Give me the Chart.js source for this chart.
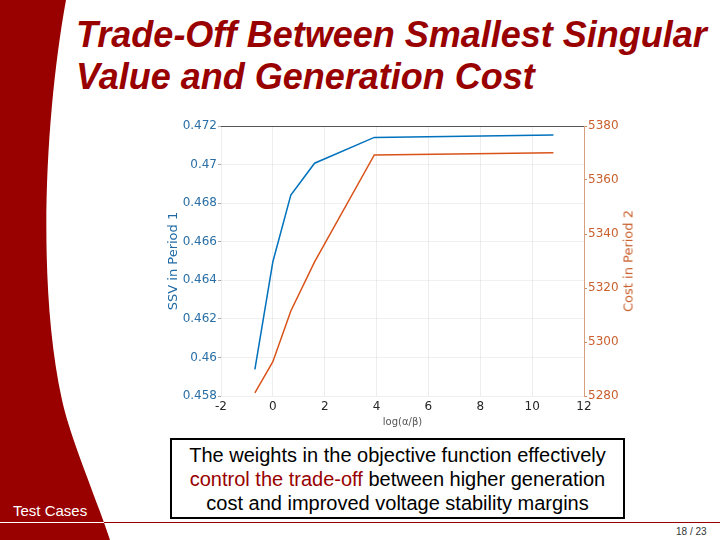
<!DOCTYPE html>
<html>
<head>
<meta charset="utf-8">
<script src="https://cdn.jsdelivr.net/npm/chart.js@4"></script>
<style>
  html, body { margin: 0; padding: 0; width: 720px; height: 540px; overflow: hidden; background: #fff; }
  #bg { position: absolute; left: 0; top: 0; }
  .title {
    position: absolute; left: 76px; top: 14px; margin: 0;
    font: italic bold 36px "Liberation Sans", Arial, sans-serif;
    line-height: 42px; color: #990000; white-space: nowrap;
  }
  #chartBox { position: absolute; left: 150px; top: 110px; width: 500px; height: 322px; }
  .rightTitle {
    position: absolute; left: 628px; top: 261px; white-space: nowrap;
    transform: translate(-50%, -50%) rotate(-90deg);
    font: 13px "DejaVu Sans", sans-serif; color: #c9602e;
  }
  .note {
    position: absolute; left: 170px; top: 438px; width: 451px; height: 74px;
    border: 2px solid #000; padding-top: 3px;
    font: 20px "Liberation Sans", Arial, sans-serif; line-height: 24px;
    text-align: center; color: #000; background: #fff;
  }
  .note span { color: #990000; }
  .section { position: absolute; left: 13px; top: 502px; font: 15px "Liberation Sans", Arial, sans-serif; color: #fff; }
  .page { position: absolute; left: 676px; top: 526px; font: 10px "Liberation Sans", Arial, sans-serif; color: #333; }
</style>
</head>
<body>
<svg id="bg" width="720" height="540">
  <defs>
    <clipPath id="band"><path d="M0 0 L66 0 C46 110 36 280 62 400 C70 437 95 495 110 540 L0 540 Z"/></clipPath>
  </defs>
  <line x1="0" y1="522.5" x2="720" y2="522.5" stroke="#990000" stroke-width="1"/>
  <path d="M0 0 L66 0 C46 110 36 280 62 400 C70 437 95 495 110 540 L0 540 Z" fill="#990000"/>
  <line x1="0" y1="522.5" x2="720" y2="522.5" stroke="#fff" stroke-width="1" clip-path="url(#band)"/>
</svg>
<div class="title">Trade-Off Between Smallest Singular<br>Value and Generation Cost</div>
<div id="chartBox"><canvas id="tradeChart"></canvas></div>
<div class="rightTitle">Cost in Period 2</div>
<div class="note">The weights in the objective function effectively<br><span>control the trade-off</span> between higher generation<br>cost and improved voltage stability margins</div>
<div class="section">Test Cases</div>
<div class="page">18 / 23</div>
<script>
// log(alpha/beta) values, SSV in period 1, cost in period 2
const logRatio = [-0.693, 0, 0.693, 1.609, 3.912, 10.82];
const ssvPeriod1 = [0.45938, 0.46496, 0.46842, 0.47007, 0.47141, 0.47153];
const costPeriod2 = [5281.2, 5292.7, 5311.5, 5329.7, 5369.3, 5370.1];
const xTicks = [-2, 0, 2, 4, 6, 8, 10, 12];

const toPoints = (xs, ys) => xs.map((x, i) => ({ x: x, y: ys[i] }));

const fixWidth = (w) => (scale) => { scale.width = w; };
const fixHeight = (h) => (scale) => { scale.height = h; };

const topLine = {
  id: 'topLine',
  afterDraw(chart) {
    const { ctx, chartArea } = chart;
    ctx.save();
    ctx.strokeStyle = '#555';
    ctx.lineWidth = 1;
    ctx.beginPath();
    ctx.moveTo(chartArea.left, chartArea.top + 0.5);
    ctx.lineTo(chartArea.right, chartArea.top + 0.5);
    ctx.stroke();
    ctx.restore();
  }
};

const tickFont = { family: 'DejaVu Sans', size: 12 };

new Chart(document.getElementById('tradeChart'), {
  type: 'line',
  data: {
    datasets: [{
      label: 'SSV in Period 1',
      data: toPoints(logRatio, ssvPeriod1),
      borderColor: '#0072BD',
      borderWidth: 1.5,
      pointRadius: 0,
      tension: 0,
      yAxisID: 'y'
    }, {
      label: 'Cost in Period 2',
      data: toPoints(logRatio, costPeriod2),
      borderColor: '#D95319',
      borderWidth: 1.5,
      pointRadius: 0,
      tension: 0,
      yAxisID: 'y1'
    }]
  },
  options: {
    responsive: true,
    maintainAspectRatio: false,
    animation: false,
    layout: { padding: { top: 16, bottom: 0, left: 0, right: 0 } },
    plugins: { legend: { display: false }, tooltip: { enabled: false } },
    scales: {
      x: {
        type: 'linear',
        min: -2,
        max: 12,
        afterBuildTicks: (scale) => { scale.ticks = xTicks.map((v) => ({ value: v })); },
        afterFit: fixHeight(36),
        grid: { color: 'rgba(0,0,0,0.07)', drawTicks: false },
        border: { display: false },
        ticks: { color: '#262626', font: tickFont, padding: 4 },
        title: { display: true, text: 'log(α/β)', color: '#555', font: { family: 'DejaVu Sans', size: 10 }, padding: { top: 0, bottom: 4 } }
      },
      y: {
        position: 'left',
        min: 0.458,
        max: 0.472,
        afterFit: fixWidth(71),
        grid: { color: 'rgba(0,0,0,0.06)', tickColor: '#aaa', tickLength: 3 },
        border: { display: false },
        ticks: { stepSize: 0.002, color: '#2a6fa6', font: tickFont, padding: 1,
          callback: (v) => Number(v.toFixed(3)).toString() },
        title: { display: true, text: 'SSV in Period 1', color: '#1f6aa5', font: { family: 'DejaVu Sans', size: 13 }, padding: { top: 16, bottom: 0 } }
      },
      y1: {
        position: 'right',
        min: 5280,
        max: 5380,
        afterFit: fixWidth(66),
        grid: { drawOnChartArea: false, tickColor: '#c98a66', tickLength: 3 },
        border: { display: true, color: '#d6a07e' },
        ticks: { stepSize: 20, color: '#c9602e', font: tickFont, padding: 1,
          callback: (v) => String(v) }
      }
    }
  },
  plugins: [topLine]
});
</script>
</body>
</html>
